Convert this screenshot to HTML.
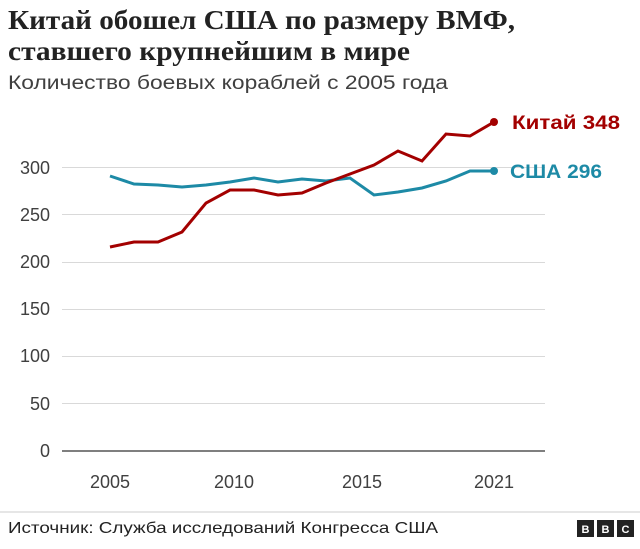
<!DOCTYPE html>
<html><head><meta charset="utf-8"><style>
body{margin:0;width:640px;height:544px;background:#fff;font-family:"Liberation Sans",Arial,sans-serif;overflow:hidden}
</style></head><body>
<svg width="640" height="544" xmlns="http://www.w3.org/2000/svg" font-family="Liberation Sans, Arial, sans-serif">
<text x="8" y="29" font-size="27" font-weight="bold" fill="#222" font-family="Liberation Serif, serif" textLength="507" lengthAdjust="spacingAndGlyphs">Китай обошел США по размеру ВМФ,</text>
<text x="8" y="60" font-size="27" font-weight="bold" fill="#222" font-family="Liberation Serif, serif" textLength="402" lengthAdjust="spacingAndGlyphs">ставшего крупнейшим в мире</text>
<text x="8" y="89" font-size="19" fill="#404040" textLength="440" lengthAdjust="spacingAndGlyphs">Количество боевых кораблей с 2005 года</text>
<g stroke="#d9d9d9" stroke-width="1">
<line x1="62" x2="545" y1="167.5" y2="167.5"/>
<line x1="62" x2="545" y1="214.5" y2="214.5"/>
<line x1="62" x2="545" y1="262.5" y2="262.5"/>
<line x1="62" x2="545" y1="309.5" y2="309.5"/>
<line x1="62" x2="545" y1="356.5" y2="356.5"/>
<line x1="62" x2="545" y1="403.5" y2="403.5"/>
</g>
<line x1="62" x2="545" y1="451" y2="451" stroke="#555" stroke-width="1.5"/>
<g font-size="18" fill="#404040" text-anchor="end">
<text x="50" y="174">300</text><text x="50" y="221">250</text><text x="50" y="268">200</text>
<text x="50" y="315">150</text><text x="50" y="362">100</text><text x="50" y="410">50</text><text x="50" y="457">0</text>
</g>
<g font-size="18" fill="#404040" text-anchor="middle">
<text x="110" y="488">2005</text><text x="234" y="488">2010</text><text x="362" y="488">2015</text><text x="494" y="488">2021</text>
</g>
<polyline fill="none" stroke="#1d8aa6" stroke-width="3" points="110,176 134,184 158,185 182,187 206,185 230,182 254,178 278,182 302,179 326,181 350,178 374,195 398,192 422,188 446,181 470,171 494,171"/>
<polyline fill="none" stroke="#a30000" stroke-width="3" points="110,247 134,242 158,242 182,232 206,203 230,190 254,190 278,195 302,193 326,183 350,174 374,165 398,151 422,161 446,134 470,136 494,122"/>
<circle cx="494" cy="171" r="4" fill="#1d8aa6"/>
<circle cx="494" cy="122" r="4" fill="#a30000"/>
<text x="512" y="129" font-size="19" font-weight="bold" fill="#a30000" textLength="108" lengthAdjust="spacingAndGlyphs">Китай 348</text>
<text x="510" y="178" font-size="19" font-weight="bold" fill="#1d8aa6" textLength="92" lengthAdjust="spacingAndGlyphs">США 296</text>
<line x1="0" x2="640" y1="512" y2="512" stroke="#ccc" stroke-width="1"/>
<text x="8" y="533" font-size="16" fill="#222" textLength="430" lengthAdjust="spacingAndGlyphs">Источник: Служба исследований Конгресса США</text>
<g font-size="11" font-weight="bold" fill="#fff" text-anchor="middle">
<rect x="577" y="520" width="17" height="17" fill="#222"/><text x="585.5" y="533">B</text>
<rect x="597" y="520" width="17" height="17" fill="#222"/><text x="605.5" y="533">B</text>
<rect x="617" y="520" width="17" height="17" fill="#222"/><text x="625.5" y="533">C</text>
</g>
</svg>
</body></html>
